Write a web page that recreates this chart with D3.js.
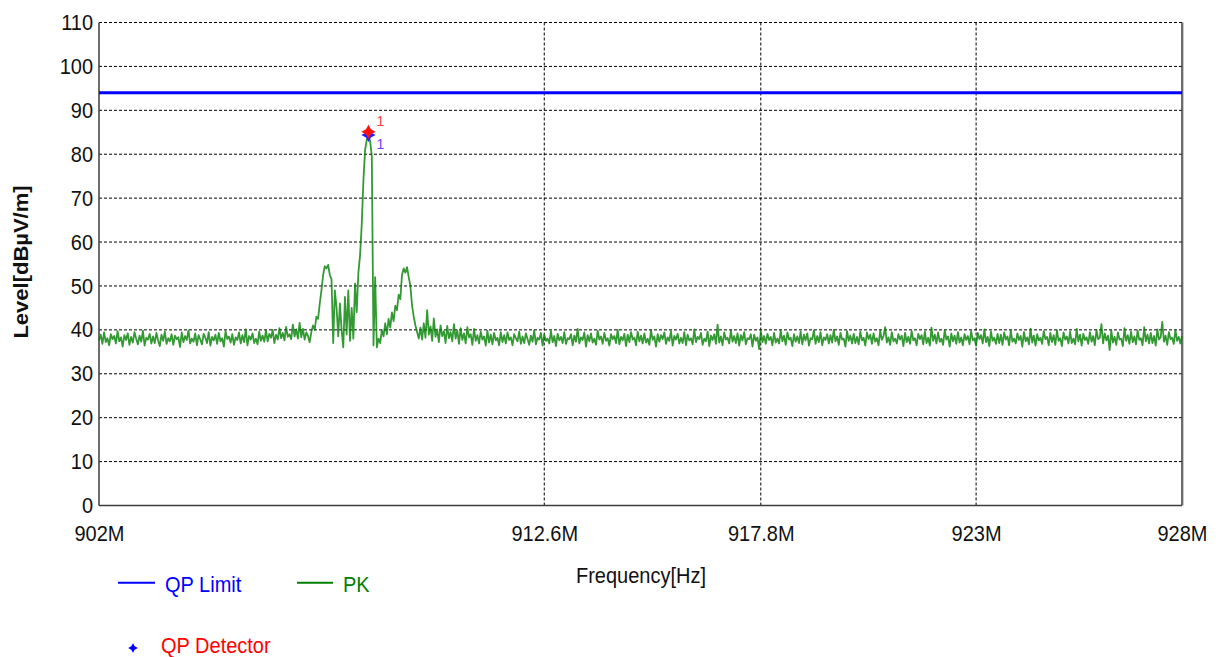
<!DOCTYPE html>
<html>
<head>
<meta charset="utf-8">
<script src="https://cdn.jsdelivr.net/npm/d3@7"></script>
<style>
  html, body { margin: 0; padding: 0; background: #fff; }
  svg { display: block; font-family: "Liberation Sans", Arial, sans-serif; }
</style>
</head>
<body>
<svg id="chart" width="1223" height="657"></svg>
<script>
// Sweep span in MHz; PK trace samples are evenly spaced bins across it
const sweepStartMHz = 902;
const sweepStopMHz = 928;

// PK detector levels, dBµV/m, one per sweep bin
const pkLevels = [
  37.6,38.9,36.8,39.4,37.2,38.1,36.5,39.0,37.9,38.6,36.9,39.7,37.4,38.3,36.2,38.8,37.7,39.2,36.6,38.4,
  37.1,39.5,38.0,36.7,38.7,37.3,39.8,36.4,38.2,37.8,39.1,36.9,38.5,37.0,39.3,37.6,36.3,38.9,37.5,39.6,
  36.8,38.1,37.4,39.0,36.6,38.7,37.9,38.3,36.1,39.4,37.2,38.6,37.7,39.9,36.9,38.0,37.3,39.2,36.5,38.8,
  37.8,36.7,39.1,38.2,37.0,39.5,36.4,38.4,37.6,38.9,36.8,39.3,37.4,38.1,36.2,39.7,37.9,38.5,37.1,39.0,
  36.6,38.3,37.7,39.4,36.9,38.8,37.2,40.1,36.5,38.6,37.8,39.2,37.0,38.0,36.7,39.6,37.5,38.7,37.3,39.8,
  37.4,39.1,38.2,40.0,37.0,38.9,37.8,40.4,38.1,39.3,37.6,40.7,38.4,39.0,37.9,41.2,38.5,40.1,38.0,41.6,
  38.3,40.2,37.8,39.4,38.6,37.2,39.5,41.0,40.0,43.0,42.5,46.0,49.0,52.5,54.5,54.0,54.8,52.5,51.5,37.0,
  49.0,45.0,38.5,46.0,40.0,36.0,47.5,39.0,49.0,37.5,45.0,38.0,50.5,44.0,53.0,57.0,64.0,74.0,81.0,83.3,
  83.9,83.0,79.5,36.5,52.0,36.0,38.0,37.0,40.0,38.5,41.5,39.0,42.5,40.5,44.0,42.0,45.5,44.5,48.0,47.0,
  52.5,54.0,53.0,54.3,52.0,50.0,45.5,43.0,41.0,39.5,38.0,40.5,37.8,41.5,38.2,44.5,38.9,40.8,37.5,42.6,
  38.4,40.1,37.2,41.0,38.6,39.7,37.0,40.9,38.1,39.5,37.4,41.3,38.0,39.9,36.8,40.4,37.7,39.2,36.9,40.6,
  38.3,39.0,36.6,40.2,37.5,38.8,36.9,39.6,37.8,38.5,36.4,39.8,37.1,38.9,36.7,39.3,37.6,38.2,36.5,39.5,
  37.2,38.8,36.9,39.4,37.7,38.3,36.5,39.0,38.1,37.4,39.6,36.8,38.5,37.0,39.2,37.9,36.6,38.7,37.3,39.9,
  36.7,38.2,37.8,39.3,36.4,38.9,37.5,38.0,36.9,39.7,37.2,38.6,36.3,39.1,37.6,38.4,37.0,39.5,36.8,38.1,
  37.9,39.0,36.5,38.7,37.3,40.2,36.9,38.3,37.7,39.4,36.2,38.8,37.4,39.2,37.1,38.0,36.6,39.8,37.8,38.5,
  36.8,39.3,37.5,38.1,36.4,39.0,37.9,38.6,37.0,40.0,36.7,38.4,37.6,39.1,36.3,38.9,37.2,39.5,37.8,38.2,
  36.5,39.6,37.4,38.7,36.9,39.2,37.1,38.0,36.6,39.9,37.7,38.5,36.2,39.0,37.3,38.8,37.9,39.4,36.8,38.3,
  37.5,39.7,36.4,38.6,37.8,39.1,36.9,38.2,37.0,39.5,36.5,38.9,37.6,38.1,36.7,40.1,37.2,38.4,37.9,39.3,
  36.6,38.0,37.4,39.6,36.3,38.7,37.7,39.0,36.8,41.2,37.1,38.5,36.5,39.4,37.8,38.2,36.9,39.8,37.3,38.6,
  37.0,39.2,36.4,38.8,37.6,39.5,36.7,38.1,37.9,39.0,36.2,38.9,37.5,38.3,35.6,39.7,37.2,38.6,36.8,39.1,
  37.7,38.4,36.5,39.3,37.1,38.0,36.9,39.8,37.4,38.7,36.6,39.4,37.8,38.2,36.3,39.0,37.3,38.5,37.0,39.6,
  36.7,38.9,37.6,39.2,36.4,38.1,37.9,39.9,36.8,38.6,37.2,39.5,36.5,38.3,37.7,39.0,36.9,38.8,37.1,40.0,
  37.4,38.5,36.6,39.3,37.8,38.0,36.2,39.7,37.5,38.7,36.9,39.1,37.0,38.4,36.7,39.6,37.6,38.2,36.4,39.4,
  37.9,38.9,36.8,39.2,37.3,38.1,36.5,39.8,37.7,38.6,40.6,37.1,38.3,36.6,39.5,37.4,38.0,36.9,39.0,37.8,
  38.7,36.3,39.3,37.2,38.4,36.8,39.7,37.6,38.1,36.5,39.1,37.9,38.8,36.7,39.6,37.0,38.2,36.4,40.5,37.5,
  38.9,36.9,39.4,37.3,38.0,36.6,39.9,37.8,38.5,36.2,39.2,37.4,38.7,36.8,39.5,37.1,38.3,36.5,39.0,37.7,
  38.6,36.7,39.7,37.6,38.1,36.4,39.3,37.9,38.8,36.9,40.1,37.2,38.4,36.3,39.6,37.5,38.2,36.8,39.1,37.0,
  38.9,36.6,39.4,37.8,38.5,36.5,39.8,37.3,38.0,36.9,39.2,37.7,38.6,36.2,39.5,37.4,38.3,36.7,40.3,37.1,
  38.7,36.4,39.0,37.6,38.2,36.8,39.7,37.9,38.4,36.5,39.3,37.2,38.8,36.6,39.9,37.5,38.1,36.3,39.4,37.8,
  38.5,36.9,39.6,37.0,38.0,36.7,40.2,37.4,38.9,36.4,39.1,37.7,38.3,36.8,39.5,37.3,38.6,36.5,40.0,37.9,
  38.2,41.3,36.9,39.2,37.6,38.7,35.4,39.8,37.1,38.4,36.6,39.4,37.8,38.0,36.3,40.4,37.5,38.8,36.8,39.6,
  37.2,38.5,36.7,39.9,37.7,38.1,36.5,40.6,37.4,38.9,36.9,39.3,37.0,38.6,36.4,40.1,37.8,38.3,41.8,37.3,
  38.7,36.6,39.5,37.9,38.2,36.8,40.0,37.5,38.4,36.9,38.6
];

// QP limit line, dBµV/m, across the band
const limitFreqMHz = [902, 928];
const limitLevels = [94, 94];

// Final measurement marker "1"
const markerFreqMHz = [908.4];
const markerPkLevel = [85.1];
const markerQpLevel = [84.4];
const markerLabels = ["1"];

// Axis ticks
const yTickValues = [0, 10, 20, 30, 40, 50, 60, 70, 80, 90, 100, 110];
const xTickMHz = [902, 912.6, 917.8, 923, 928];
const xTickLabels = ["902M", "912.6M", "917.8M", "923M", "928M"];

const plot = { left: 99, right: 1182, top: 22.5, bottom: 505.5 };
const svg = d3.select("#chart");

const x = d3.scaleLog().domain([sweepStartMHz, sweepStopMHz]).range([plot.left, plot.right]);
const y = d3.scaleLinear().domain([0, 110]).range([plot.bottom, plot.top]);

const binStep = (sweepStopMHz - sweepStartMHz) / (pkLevels.length - 1);
const pkTrace = pkLevels.map((v, i) => ({ f: sweepStartMHz + i * binStep, v }));

// Dashed grid
svg.append("g").selectAll("line")
  .data(yTickValues.filter(d => d > 0))
  .join("line")
  .attr("x1", plot.left).attr("x2", plot.right)
  .attr("y1", d => y(d)).attr("y2", d => y(d))
  .attr("stroke", "#000").attr("stroke-width", 1)
  .attr("stroke-dasharray", "3,2");

svg.append("g").selectAll("line")
  .data(xTickMHz.slice(1, -1))
  .join("line")
  .attr("x1", d => x(d)).attr("x2", d => x(d))
  .attr("y1", plot.top).attr("y2", plot.bottom)
  .attr("stroke", "#000").attr("stroke-width", 1)
  .attr("stroke-dasharray", "3,2");

// Axes (labels only; frame drawn separately)
const yAxis = svg.append("g")
  .attr("transform", `translate(${plot.left},0)`)
  .call(d3.axisLeft(y).tickValues(yTickValues).tickSize(0).tickPadding(6));
const xAxis = svg.append("g")
  .attr("transform", `translate(0,${plot.bottom})`)
  .call(d3.axisBottom(x).tickValues(xTickMHz).tickFormat((d, i) => xTickLabels[i]).tickSize(0).tickPadding(18.5));
[yAxis, xAxis].forEach(g => {
  g.select(".domain").remove();
  g.selectAll("text")
    .attr("font-size", 20)
    .attr("font-family", "Liberation Sans, Arial, sans-serif")
    .attr("fill", "#111")
    .attr("transform", "scale(1,1.1)");
});

// Frame
const frame = svg.append("g").attr("stroke", "#3c3c3c").attr("stroke-width", 1.5).attr("fill", "none");
frame.append("line").attr("x1", plot.left).attr("x2", plot.left).attr("y1", plot.top).attr("y2", plot.bottom);
frame.append("line").attr("x1", plot.left).attr("x2", plot.right).attr("y1", plot.bottom).attr("y2", plot.bottom);
frame.append("line").attr("x1", plot.right).attr("x2", plot.right).attr("y1", plot.top).attr("y2", plot.bottom);
svg.append("line").attr("x1", plot.right + 1.5).attr("x2", plot.right + 1.5)
  .attr("y1", plot.top).attr("y2", plot.bottom).attr("stroke", "#c8c8c8").attr("stroke-width", 1);

// QP limit
const lineGen = d3.line().x(d => x(d.f)).y(d => y(d.v));
svg.append("path")
  .datum(limitFreqMHz.map((f, i) => ({ f, v: limitLevels[i] })))
  .attr("d", lineGen)
  .attr("fill", "none").attr("stroke", "#0000ff").attr("stroke-width", 3);

// PK trace
svg.append("path")
  .datum(pkTrace)
  .attr("d", lineGen)
  .attr("fill", "none").attr("stroke", "#008000").attr("stroke-width", 1.8)
  .attr("stroke-opacity", 0.8).attr("stroke-linejoin", "round");

// Four-pointed star marker
const star4 = {
  draw(ctx, size) {
    const r = Math.sqrt(size) / 1.6, ri = r * 0.5;
    for (let k = 0; k < 8; k++) {
      const a = k * Math.PI / 4 - Math.PI / 2, rad = k % 2 ? ri : r;
      const px = Math.cos(a) * rad, py = Math.sin(a) * rad;
      k ? ctx.lineTo(px, py) : ctx.moveTo(px, py);
    }
    ctx.closePath();
  }
};

const marks = svg.append("g");
marks.selectAll("path.qp").data(markerFreqMHz).join("path")
  .attr("class", "qp")
  .attr("d", d3.symbol(star4, 130))
  .attr("transform", (d, i) => `translate(${x(d)},${y(markerQpLevel[i])})`)
  .attr("fill", "#2020ff");
marks.selectAll("path.pk").data(markerFreqMHz).join("path")
  .attr("class", "pk")
  .attr("d", d3.symbol(star4, 130))
  .attr("transform", (d, i) => `translate(${x(d)},${y(markerPkLevel[i])})`)
  .attr("fill", "#ff1010");
marks.selectAll("text.pk").data(markerFreqMHz).join("text")
  .attr("class", "pk")
  .attr("x", d => x(d) + 8).attr("y", (d, i) => y(markerPkLevel[i]) - 6)
  .attr("font-size", 14).attr("fill", "#ff4040").text((d, i) => markerLabels[i]);
marks.selectAll("text.qp").data(markerFreqMHz).join("text")
  .attr("class", "qp")
  .attr("x", d => x(d) + 8).attr("y", (d, i) => y(markerQpLevel[i]) + 14)
  .attr("font-size", 14).attr("fill", "#7040ff").text((d, i) => markerLabels[i]);

// Axis titles
svg.append("text")
  .attr("transform", "translate(28,262) rotate(-90) scale(1.1,1)")
  .attr("text-anchor", "middle").attr("font-size", 20).attr("font-weight", "bold")
  .attr("fill", "#111").text("Level[dBµV/m]");
svg.append("text")
  .attr("transform", "translate(641,583) scale(1,1.1)")
  .attr("text-anchor", "middle").attr("font-size", 20)
  .attr("fill", "#111").text("Frequency[Hz]");

// Legend
const legend = svg.append("g").attr("font-size", 20);
legend.append("line").attr("x1", 118).attr("x2", 155).attr("y1", 582.7).attr("y2", 582.7)
  .attr("stroke", "#0000ff").attr("stroke-width", 2);
legend.append("text").attr("transform", "translate(165,591.5) scale(1,1.1)")
  .attr("fill", "#0000ff").text("QP Limit");
legend.append("line").attr("x1", 297).attr("x2", 333).attr("y1", 582.7).attr("y2", 582.7)
  .attr("stroke", "#008000").attr("stroke-width", 2);
legend.append("text").attr("transform", "translate(343,591.5) scale(1,1.1)")
  .attr("fill", "#008000").text("PK");
legend.append("path").attr("d", d3.symbol(star4, 60))
  .attr("transform", "translate(133,648)").attr("fill", "#0000ff");
legend.append("text").attr("transform", "translate(161,653) scale(1,1.1)")
  .attr("fill", "#ff0000").text("QP Detector");
</script>
</body>
</html>
